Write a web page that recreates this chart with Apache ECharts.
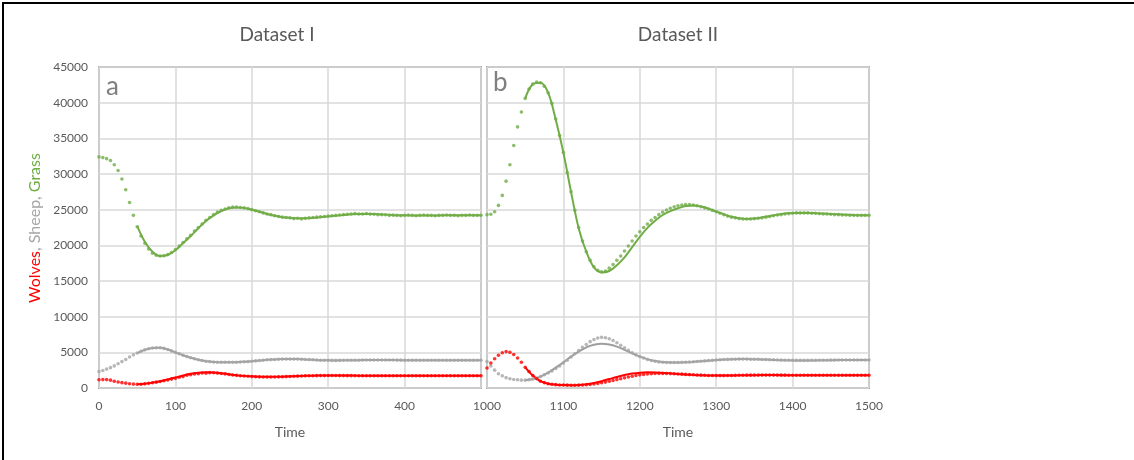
<!DOCTYPE html>
<html>
<head>
<meta charset="utf-8">
<script src="https://cdn.jsdelivr.net/npm/echarts@6/dist/echarts.min.js"></script>
<style>
  html, body { margin: 0; padding: 0; background: #fff; }
  #chart { width: 1134px; height: 460px; }
  #frame {
    position: absolute; left: 2px; top: 2px; width: 1132px; height: 458px;
    border-top: 2px solid #000; border-left: 2px solid #000;
    box-sizing: border-box; pointer-events: none;
  }
</style>
</head>
<body>
<div id="chart"></div>
<div id="frame"></div>
<script>
// ---- Sampling grids ----
const DOT_STEP = 5;     // observations every 5 time units
const FIT_STEP = 10;    // model curve sampled every 10 time units
const startI = 0, endI = 500, fitStartI = 50;
const startII = 1000, endII = 1500, fitStartII = 1050;

// ---- Dataset I: observations (t = 0..500, step 5) ----
const grassObsI = [
  32400,32300,32150,31900,31300,30500,29300,27800,26000,24200,
  22600,21300,20300,19500,18900,18600,18500,18550,18700,19000,
  19400,19900,20400,20900,21400,22000,22500,23000,23500,23900,
  24300,24650,24900,25100,25250,25350,25350,25300,25250,25150,
  25000,24850,24700,24550,24400,24300,24150,24050,23950,23900,
  23850,23750,23800,23700,23800,23850,23900,23950,24000,24050,
  24100,24150,24200,24250,24300,24350,24400,24450,24400,24400,
  24450,24380,24350,24300,24300,24280,24200,24230,24200,24150,
  24200,24250,24200,24150,24200,24250,24200,24200,24150,24200,
  24200,24250,24200,24200,24150,24200,24200,24250,24200,24200,
  24200
];
const sheepObsI = [
  2300,2450,2650,2850,3100,3400,3700,4000,4350,4650,
  4900,5150,5350,5500,5600,5650,5650,5550,5400,5200,
  5000,4800,4600,4400,4250,4100,3950,3850,3750,3700,
  3650,3600,3600,3600,3600,3600,3620,3650,3680,3700,
  3750,3800,3850,3900,3950,3980,4000,4020,4050,4050,
  4050,4050,4050,4030,4000,3980,3950,3930,3900,3900,
  3880,3870,3870,3870,3880,3880,3890,3900,3900,3910,
  3920,3930,3930,3930,3930,3930,3920,3920,3910,3910,
  3900,3900,3900,3900,3900,3900,3900,3900,3900,3900,
  3900,3900,3900,3900,3900,3900,3900,3900,3900,3900,
  3900
];
const wolvesObsI = [
  1150,1180,1180,1100,950,850,750,680,600,550,
  520,530,580,650,730,820,920,1020,1130,1250,
  1350,1500,1600,1780,1850,1980,2000,2100,2080,2150,
  2130,2090,2040,1980,1900,1830,1770,1720,1680,1640,
  1600,1580,1560,1550,1540,1540,1550,1560,1580,1600,
  1620,1640,1660,1680,1700,1710,1720,1730,1740,1740,
  1750,1750,1750,1740,1740,1730,1730,1720,1720,1720,
  1720,1720,1720,1720,1720,1720,1720,1720,1720,1720,
  1720,1720,1720,1720,1720,1720,1720,1720,1720,1720,
  1720,1720,1720,1720,1720,1720,1720,1720,1720,1720,
  1720
];

// ---- Dataset I: model fit (t = 50..500, step 10) ----
const grassFitI = [
  22700,20500,19100,18500,18650,19300,20300,21300,22400,23400,
  24200,24800,25200,25300,25250,25000,24700,24400,24150,23950,
  23850,23800,23800,23850,23950,24050,24150,24250,24350,24400,
  24400,24380,24330,24280,24230,24200,24180,24170,24170,24180,
  24200,24200,24200,24200,24200,24200
];
const sheepFitI = [
  4900,5350,5600,5650,5400,5000,4600,4250,3950,3750,
  3650,3600,3600,3620,3680,3750,3850,3950,4000,4050,
  4050,4050,4000,3950,3900,3880,3870,3880,3890,3900,
  3920,3930,3930,3920,3910,3900,3900,3900,3900,3900,
  3900,3900,3900,3900,3900,3900
];
const wolvesFitI = [
  520,590,760,960,1200,1460,1750,2000,2150,2200,
  2170,2070,1930,1800,1700,1630,1580,1560,1560,1590,
  1630,1670,1710,1730,1750,1760,1760,1750,1740,1730,
  1720,1720,1720,1720,1720,1720,1720,1720,1720,1720,
  1720,1720,1720,1720,1720,1720
];

// ---- Dataset II: observations (t = 1000..1500, step 5) ----
const grassObsII = [
  24300,24350,24700,25600,27000,29000,31300,34000,36600,38700,
  40600,41900,42600,42900,42800,42300,41400,39900,37700,35400,
  33000,30200,27500,24900,22500,20600,19100,17900,17000,16500,
  16300,16400,16800,17300,17900,18500,19200,19900,20600,21300,
  21900,22500,23000,23500,23900,24300,24650,24950,25200,25400,
  25550,25650,25700,25700,25650,25550,25400,25250,25100,24900,
  24700,24500,24300,24100,23950,23850,23750,23700,23700,23700,
  23750,23800,23850,23950,24050,24150,24250,24300,24400,24450,
  24500,24550,24550,24550,24550,24500,24500,24450,24400,24400,
  24350,24300,24300,24250,24250,24200,24200,24200,24200,24200,
  24200
];
const sheepObsII = [
  3700,3100,2500,2000,1700,1450,1300,1200,1150,1100,
  1100,1150,1250,1400,1600,1850,2100,2400,2750,3100,
  3500,3900,4350,4800,5250,5700,6100,6500,6800,7000,
  7100,7050,6900,6650,6350,6000,5650,5300,4950,4650,
  4400,4200,4000,3850,3750,3650,3600,3580,3570,3570,
  3580,3600,3620,3650,3680,3720,3760,3800,3840,3880,
  3920,3960,3990,4010,4030,4040,4050,4050,4050,4040,
  4030,4020,4000,3990,3970,3950,3930,3910,3900,3890,
  3880,3870,3870,3870,3870,3880,3880,3890,3900,3900,
  3910,3910,3920,3920,3920,3920,3920,3920,3920,3920,
  3920
];
const wolvesObsII = [
  2800,3500,4100,4600,4950,5100,5000,4700,4200,3600,
  2900,2300,1750,1300,950,750,600,520,470,430,
  420,400,390,390,400,420,450,500,560,640,
  730,830,940,1060,1180,1300,1420,1540,1650,1750,
  1840,1910,1970,2010,2040,2050,2050,2040,2020,2000,
  1970,1940,1910,1880,1850,1820,1800,1780,1760,1750,
  1740,1740,1740,1750,1760,1770,1780,1790,1800,1800,
  1810,1810,1810,1810,1810,1810,1800,1800,1800,1790,
  1790,1790,1780,1780,1780,1780,1780,1780,1780,1780,
  1780,1780,1780,1780,1780,1780,1780,1780,1780,1780,
  1780
];

// ---- Dataset II: model fit (t = 1050..1500, step 10) ----
const grassFitII = [
  40600,42600,42800,41400,37600,33000,27500,22400,19100,16900,
  16200,16400,17200,18300,19750,21200,22450,23450,24250,24800,
  25200,25500,25600,25450,25150,24750,24350,24000,23800,23700,
  23750,23900,24100,24300,24450,24550,24550,24550,24500,24450,
  24400,24350,24300,24250,24200,24200
];
const sheepFitII = [
  1100,1250,1600,2150,2850,3600,4400,5100,5700,6050,
  6200,6100,5800,5350,4850,4400,4050,3800,3650,3580,
  3570,3600,3660,3740,3830,3910,3980,4030,4050,4050,
  4030,4000,3960,3920,3890,3870,3860,3860,3870,3890,
  3900,3910,3910,3910,3910,3910
];
const wolvesFitII = [
  2900,1750,950,600,470,420,390,420,520,700,
  950,1250,1550,1820,2020,2150,2200,2180,2120,2050,
  1970,1900,1840,1790,1760,1740,1740,1750,1770,1790,
  1800,1810,1810,1810,1800,1790,1780,1780,1780,1780,
  1780,1780,1780,1780,1780,1780
];

// ---- Axis ticks ----
const yTicks = [0,5000,10000,15000,20000,25000,30000,35000,40000,45000];
const xTicksI = [0,100,200,300,400];
const xTicksII = [1000,1100,1200,1300,1400,1500];

// ---- Styling ----
const GREEN = '#70ad47', GREY = '#a5a5a5', RED = '#ff0000';
const TEXT = '#595959';
const FONT = 'Lato, "Open Sans", sans-serif';

// pair each value with its time stamp
function pairs(values, t0, step) {
  return values.map((v, i) => [t0 + i * step, v]);
}

function obsSeries(values, t0, color, idx) {
  return {
    type: 'scatter', xAxisIndex: idx, yAxisIndex: idx,
    data: pairs(values, t0, DOT_STEP),
    symbol: 'circle', symbolSize: 3.6,
    itemStyle: { color: color },
    silent: true, z: 3
  };
}
function fitSeries(values, t0, color, idx) {
  return {
    type: 'line', xAxisIndex: idx, yAxisIndex: idx,
    data: pairs(values, t0, FIT_STEP),
    smooth: 0.35, showSymbol: false,
    lineStyle: { color: color, width: 2 },
    silent: true, z: 2
  };
}

function xAxis(idx, min, max, ticks) {
  return {
    gridIndex: idx, type: 'value', min: min, max: max, interval: 100,
    axisLine: { show: false }, axisTick: { show: false },
    axisLabel: {
      color: TEXT, fontFamily: FONT, fontSize: 12, margin: 12,
      formatter: v => (ticks.indexOf(v) >= 0 ? String(v) : '')
    },
    splitLine: { show: true, lineStyle: { color: '#d9d9d9', width: 1.5 } },
    name: 'Time', nameLocation: 'middle', nameGap: 37,
    nameTextStyle: { color: TEXT, fontFamily: FONT, fontSize: 14 }
  };
}
function yAxis(idx, showLabels) {
  return {
    gridIndex: idx, type: 'value', min: 0, max: 45000, interval: 5000,
    axisLine: { show: false }, axisTick: { show: false },
    axisLabel: {
      show: showLabels, color: TEXT, fontFamily: FONT, fontSize: 12, margin: 11,
      formatter: v => (yTicks.indexOf(v) >= 0 ? String(v) : '')
    },
    splitLine: { show: true, lineStyle: { color: '#d9d9d9', width: 1.5 } }
  };
}

const gridBase = { top: 67, height: 321, width: 382, show: true,
  borderColor: '#a6a6a6', borderWidth: 2, backgroundColor: 'transparent' };

const option = {
  animation: false,
  backgroundColor: '#fff',
  textStyle: { fontFamily: FONT },
  grid: [
    Object.assign({ left: 99 }, gridBase),
    Object.assign({ left: 487 }, gridBase)
  ],
  xAxis: [xAxis(0, startI, endI, xTicksI), xAxis(1, startII, endII, xTicksII)],
  yAxis: [yAxis(0, true), yAxis(1, false)],
  graphic: [
    { type: 'text', x: 277, y: 35, silent: true,
      style: { text: 'Dataset I', fill: TEXT, font: '19px ' + FONT, align: 'center', verticalAlign: 'middle' } },
    { type: 'text', x: 678, y: 35, silent: true,
      style: { text: 'Dataset II', fill: TEXT, font: '19px ' + FONT, align: 'center', verticalAlign: 'middle' } },
    { type: 'text', x: 106, y: 87, silent: true, z: 10,
      style: { text: 'a', fill: '#808080', font: '26px ' + FONT, align: 'left', verticalAlign: 'middle' } },
    { type: 'text', x: 493, y: 83, silent: true, z: 10,
      style: { text: 'b', fill: '#808080', font: '26px ' + FONT, align: 'left', verticalAlign: 'middle' } },
    { type: 'text', x: 35, y: 228, rotation: Math.PI / 2, silent: true,
      style: {
        text: '{w|Wolves}{s|, Sheep, }{g|Grass}',
        align: 'center', verticalAlign: 'middle',
        rich: {
          w: { fill: RED, fontSize: 16, fontFamily: FONT },
          s: { fill: GREY, fontSize: 16, fontFamily: FONT },
          g: { fill: GREEN, fontSize: 16, fontFamily: FONT }
        }
      } }
  ],
  series: [
    fitSeries(grassFitI, fitStartI, GREEN, 0),
    fitSeries(sheepFitI, fitStartI, '#9e9e9e', 0),
    fitSeries(wolvesFitI, fitStartI, RED, 0),
    obsSeries(grassObsI, startI, GREEN, 0),
    obsSeries(sheepObsI, startI, GREY, 0),
    obsSeries(wolvesObsI, startI, RED, 0),
    fitSeries(grassFitII, fitStartII, GREEN, 1),
    fitSeries(sheepFitII, fitStartII, '#9e9e9e', 1),
    fitSeries(wolvesFitII, fitStartII, RED, 1),
    obsSeries(grassObsII, startII, GREEN, 1),
    obsSeries(sheepObsII, startII, GREY, 1),
    obsSeries(wolvesObsII, startII, RED, 1)
  ]
};

const chart = echarts.init(document.getElementById('chart'), null, { renderer: 'canvas' });
chart.setOption(option);
</script>
</body>
</html>
